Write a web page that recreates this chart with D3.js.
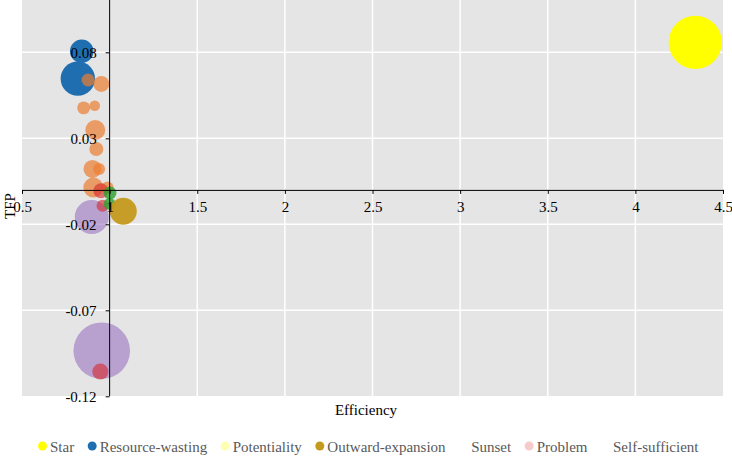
<!DOCTYPE html>
<html>
<head>
<meta charset="utf-8">
<script src="https://cdn.jsdelivr.net/npm/d3@7"></script>
<style>
  html, body { margin: 0; padding: 0; background: #fff; }
  svg { display: block; }
  svg text { font-family: "Liberation Serif", "Times New Roman", serif; }
</style>
</head>
<body>
<svg id="chart" width="732" height="456"></svg>
<script>
// ---- data ----
const xTicks = [0.5, 1, 1.5, 2, 2.5, 3, 3.5, 4, 4.5];
const yTicks = [-0.12, -0.07, -0.02, 0.03, 0.08];
const xTitle = "Efficiency";
const yTitle = "TFP";

const legendNames  = ["Star", "Resource-wasting", "Potentiality", "Outward-expansion", "Sunset", "Problem", "Self-sufficient"];
const legendColors = ["#FFFF00", "#1F6FB0", "#FFFFB3", "#C49A1C", "#FFFFFF", "#F8CBCB", "#FFFFFF"];

// bubble series (drawing order)
const bubbleGroup = ["star","blue","blue","orange","orange","orange","orange","orange","orange","orange","orange","orange","orange",
                     "purple","purple","red","red","red","green","green","gold"];
const bubbleX     = [4.342, 0.8185, 0.8407, 0.877, 0.9526, 0.852, 0.915, 0.918, 0.924, 0.902, 0.94, 0.907, 0.988,
                     0.898, 0.955, 0.950, 0.9595, 0.947, 1.002, 1.000, 1.078];
const bubbleY     = [0.0858, 0.0647, 0.0806, 0.0639, 0.0616, 0.0477, 0.0489, 0.0348, 0.0238, 0.0122, 0.0122, 0.0014, 0.0014,
                     -0.0158, -0.0935, -0.0005, -0.0092, -0.1056, -0.0018, -0.0082, -0.0124];
const bubbleSize  = [708, 296, 139, 42, 64, 42, 28, 100, 49, 81, 36, 100, 36,
                     289, 801, 56, 36, 64, 42, 36, 182];

const groupColor   = {star:"#FFFF00", blue:"#1F6FB0", orange:"#ED7D31", purple:"#9467BD", red:"#D62728", green:"#2CA02C", gold:"#C49A1C"};
const groupOpacity = {star:1, blue:1, orange:0.7, purple:0.55, red:0.6, green:0.8, gold:0.95};

// ---- layout ----
const svg = d3.select("#chart");
const plot = {left: 22, right: 723, top: 0, bottom: 396};
const x = d3.scaleLinear().domain([0.5, 4.5]).range([22, 723]);
const y = d3.scaleLinear().domain([-0.12, 0.11]).range([396.3, 0.7]);
const r = d3.scaleSqrt().domain([0, 801]).range([0, 28.3]);

svg.append("rect")
  .attr("x", plot.left).attr("y", plot.top)
  .attr("width", plot.right - plot.left).attr("height", plot.bottom - plot.top)
  .attr("fill", "#E5E5E5");

// gridlines
svg.append("g").selectAll("line").data(xTicks.filter(v => v > 1 && v < 4.5)).join("line")
  .attr("x1", d => x(d)).attr("x2", d => x(d))
  .attr("y1", plot.top).attr("y2", plot.bottom)
  .attr("stroke", "#fff").attr("stroke-width", 1.5);
svg.append("g").selectAll("line").data(yTicks.filter(v => v > -0.12)).join("line")
  .attr("x1", plot.left).attr("x2", plot.right)
  .attr("y1", d => y(d)).attr("y2", d => y(d))
  .attr("stroke", "#fff").attr("stroke-width", 1.5);

// bubbles
const bubbles = bubbleX.map((v, i) => ({x: v, y: bubbleY[i], s: bubbleSize[i], g: bubbleGroup[i]}));
svg.append("g").selectAll("circle").data(bubbles).join("circle")
  .attr("cx", d => x(d.x)).attr("cy", d => y(d.y)).attr("r", d => r(d.s))
  .attr("fill", d => groupColor[d.g]).attr("fill-opacity", d => groupOpacity[d.g]);

// axes
const fmtY = v => d3.format(".2f")(v).replace("\u2212", "-");
const xAxis = svg.append("g").attr("transform", `translate(0,${y(0)})`)
  .call(d3.axisBottom(x).tickValues(xTicks).tickSize(4).tickSizeOuter(0).tickPadding(7).tickFormat(d3.format("")));
const yAxis = svg.append("g").attr("transform", `translate(${x(1)},0)`)
  .call(d3.axisLeft(y).tickValues(yTicks).tickSize(4).tickSizeOuter(0).tickPadding(9).tickFormat(fmtY));
yAxis.select(".domain").attr("d", `M0,${plot.top}V${plot.bottom}`);
[xAxis, yAxis].forEach(a => {
  a.attr("font-family", null).attr("font-size", null);
  a.selectAll("path,line").attr("stroke", "#000").attr("stroke-width", 1);
  a.selectAll("text").attr("font-size", 15).attr("fill", "#000");
});

// titles
svg.append("text").attr("x", 366).attr("y", 415).attr("text-anchor", "middle")
  .attr("font-size", 15).attr("fill", "#000").text(xTitle);
svg.append("text").attr("transform", "translate(15,206) rotate(-90)").attr("text-anchor", "middle")
  .attr("font-size", 15).attr("fill", "#000").text(yTitle);

// legend
const lg = svg.append("g");
let cx = 0;
legendNames.forEach((name, i) => {
  const it = lg.append("g").attr("transform", `translate(${cx},0)`);
  it.append("circle").attr("cx", 0).attr("cy", 446).attr("r", 4.5).attr("fill", legendColors[i]);
  const t = it.append("text").attr("x", 7.5).attr("y", 452).attr("font-size", 15).attr("fill", "#595959").text(name);
  cx += 7.5 + t.node().getComputedTextLength() + 18;
});
const bb = lg.node().getBBox();
lg.attr("transform", `translate(${38 - bb.x},0)`);
</script>
</body>
</html>
